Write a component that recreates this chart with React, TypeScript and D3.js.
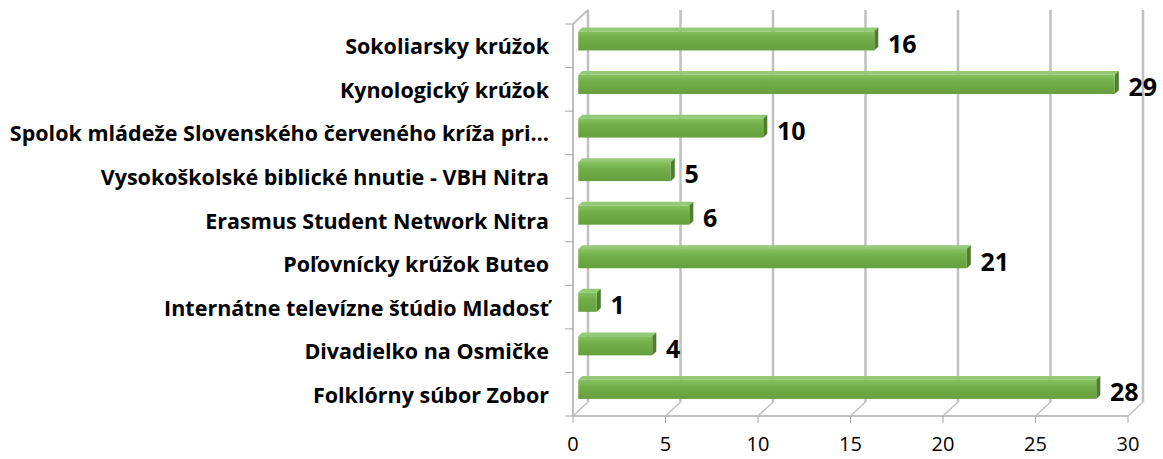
import React from "react";
import * as d3 from "d3";

const categories = [
  "Sokoliarsky krúžok",
  "Kynologický krúžok",
  "Spolok mládeže Slovenského červeného kríža pri…",
  "Vysokoškolské biblické hnutie - VBH Nitra",
  "Erasmus Student Network Nitra",
  "Poľovnícky krúžok Buteo",
  "Internátne televízne štúdio Mladosť",
  "Divadielko na Osmičke",
  "Folklórny súbor Zobor",
];
const values = [16, 29, 10, 5, 6, 21, 1, 4, 28];
const xTicks = [0, 5, 10, 15, 20, 25, 30];

const W = 1163;
const H = 459;
const DX = 15;
const DY = -14;

export default function App() {
  const x = d3.scaleLinear().domain([0, 30]).range([573, 1128]);
  const y = d3.scaleBand().domain(categories).range([24, 416]).paddingInner(0).paddingOuter(0);
  const bw = y.bandwidth();
  const barH = bw * 0.44;
  const dF = 0.35;
  const dB = 0.62;
  const front = { dx: DX * dF, dy: DY * dF };
  const back = { dx: DX * dB, dy: DY * dB };
  const grid = "#c0c0c0";
  const font = "'Open Sans', sans-serif";

  return (
    <svg width={W} height={H} style={{ position: "absolute", left: 0, top: 0, background: "#fff" }}>
      <defs>
        <linearGradient id="barFront" x1="0" y1="0" x2="0" y2="1">
          <stop offset="0" stopColor="#86c25e" />
          <stop offset="0.35" stopColor="#72ae49" />
          <stop offset="1" stopColor="#66a03e" />
        </linearGradient>
      </defs>
      {xTicks.map((t) => (
        <line key={"g" + t} x1={x(t) + DX} x2={x(t) + DX} y1={24 + DY} y2={416 + DY} stroke={grid} strokeWidth={2.5} />
      ))}
      {xTicks.map((t) => (
        <line key={"f" + t} x1={x(t)} x2={x(t) + DX} y1={416} y2={416 + DY} stroke={grid} strokeWidth={1.5} />
      ))}
      <line x1={573} x2={573} y1={24} y2={416} stroke={grid} strokeWidth={2} />
      <line x1={573} x2={573 + DX} y1={24} y2={24 + DY} stroke={grid} strokeWidth={2} />
      <line x1={573} x2={1128} y1={416} y2={416} stroke={grid} strokeWidth={2} />
      {d3.range(categories.length + 1).map((i) => (
        <line key={"yt" + i} x1={565} x2={573} y1={24 + i * bw} y2={24 + i * bw} stroke="#a6a6a6" strokeWidth={1} />
      ))}
      {xTicks.map((t) => (
        <line key={"xt" + t} x1={x(t)} x2={x(t)} y1={416} y2={423} stroke="#a6a6a6" strokeWidth={1} />
      ))}
      {categories.map((c, i) => {
        const v = values[i];
        const cy = (y(c) as number) + bw / 2;
        const yT = cy - barH / 2;
        const yB = cy + barH / 2;
        const x0F = x(0) + front.dx;
        const x1F = x(v) + front.dx;
        const x0B = x(0) + back.dx;
        const x1B = x(v) + back.dx;
        const yTF = yT + front.dy;
        const yBF = yB + front.dy;
        const yTB = yT + back.dy;
        const yBB = yB + back.dy;
        return (
          <g key={"b" + i}>
            <polygon points={`${x0F},${yTF} ${x1F},${yTF} ${x1B},${yTB} ${x0B},${yTB}`} fill="#94c977" />
            <polygon points={`${x1F},${yTF} ${x1B},${yTB} ${x1B},${yBB} ${x1F},${yBF}`} fill="#4d7d2f" />
            <rect x={x0F} y={yTF} width={x1F - x0F} height={barH} fill="url(#barFront)" />
          </g>
        );
      })}
      {categories.map((c) => (
        <text
          key={"l" + c}
          x={549}
          y={(y(c) as number) + bw / 2}
          textAnchor="end"
          dominantBaseline="central"
          fontFamily={font}
          fontWeight="bold"
          fontSize={21.5}
          fill="#000"
        >
          {c}
        </text>
      ))}
      {categories.map((c, i) => (
        <text
          key={"v" + c}
          x={x(values[i]) + 19}
          y={(y(c) as number) + bw / 2 - 3}
          textAnchor="start"
          dominantBaseline="central"
          fontFamily={font}
          fontWeight="bold"
          fontSize={25}
          fill="#000"
        >
          {values[i]}
        </text>
      ))}
      {xTicks.map((t) => (
        <text
          key={"xl" + t}
          x={x(t)}
          y={443}
          textAnchor="middle"
          dominantBaseline="central"
          fontFamily={font}
          fontSize={20}
          fill="#000"
        >
          {t}
        </text>
      ))}
    </svg>
  );
}
